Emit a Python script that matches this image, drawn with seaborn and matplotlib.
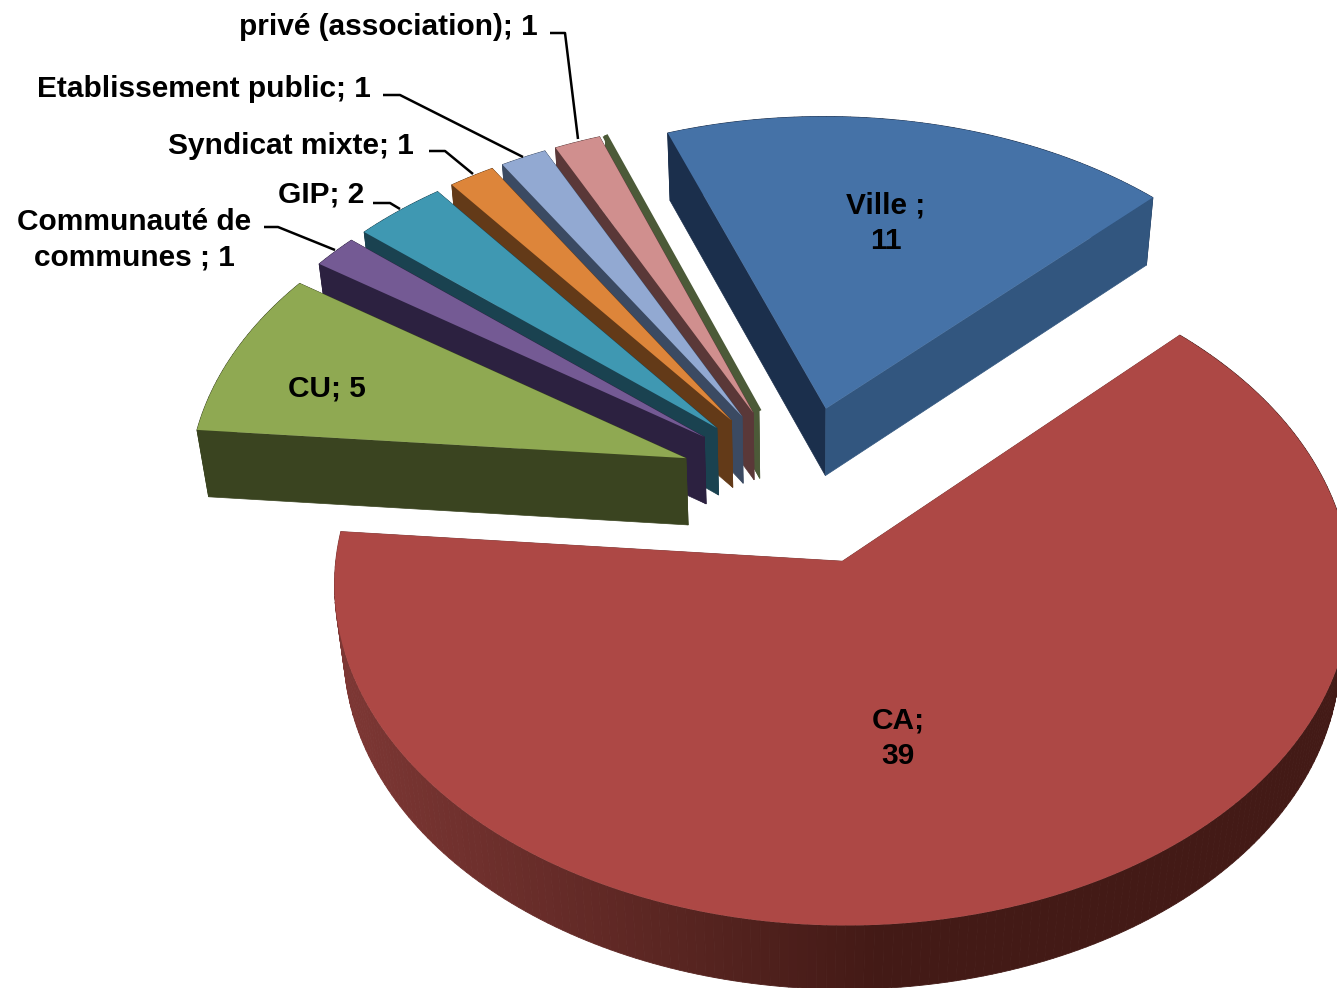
import matplotlib
matplotlib.use("Agg")
import matplotlib.pyplot as plt
from matplotlib.colors import to_rgb
from matplotlib.transforms import Transform
import numpy as np
import seaborn as sns

categories = ["Ville", "CA", "CU", "Communauté de communes", "GIP",
              "Syndicat mixte", "Etablissement public", "privé (association)", "Autre"]
values = [11, 39, 5, 1, 2, 1, 1, 1, 0]
top_colors = ["#4572a7", "#ad4845", "#8fa952", "#745a94", "#3f98b2",
              "#dd853a", "#92a9d2", "#d08f8e", "#a8c078"]
wall_colors = ["#1b2f4c", "#7a3532", "#3a4420", "#2c2140", "#1a4250",
               "#633a18", "#3b4a62", "#5a3838", "#4c5a38"]

sns.set_theme(style="white")
plt.rcParams["font.family"] = ["Liberation Sans", "DejaVu Sans"]

# fake 3D: camera numbers for the tilted pie
CX, CY, RX, RY, K, DEPTH, SHRINK = 800, 485, 498, 325, 0.075, 68, 0.02


def project(x, y, z=0.0):
    w = 1 + K * np.asarray(y) + SHRINK * z
    return CX + RX * np.asarray(x) / w, CY + (-RY * np.asarray(y) + DEPTH * z) / w


class Tilt(Transform):
    input_dims = output_dims = 2
    is_separable = False
    has_inverse = False

    def transform_non_affine(self, values):
        sx, sy = project(values[:, 0], values[:, 1])
        return np.column_stack([sx, sy])


fig = plt.figure(figsize=(13.37, 9.88), dpi=100)
ax = fig.add_axes([0, 0, 1, 1])
wedges, _ = ax.pie(values, colors=top_colors, explode=[0.245] * len(values), startangle=110,
                   counterclock=False, radius=1, wedgeprops={"linewidth": 0})
ax.set_aspect("auto")
ax.set_xlim(0, 1337)
ax.set_ylim(988, 0)
ax.axis("off")

tilt = Tilt() + ax.transData


def rim_point(w, angle):
    a = np.radians(angle)
    return w.center[0] + w.r * np.cos(a), w.center[1] + w.r * np.sin(a)


def draw_wall(w, angle, color, zo):
    ax0, ay0 = w.center
    rx0, ry0 = rim_point(w, angle)
    sx = []
    sy = []
    for px, py, pz in [(ax0, ay0, 0), (rx0, ry0, 0), (rx0, ry0, 1), (ax0, ay0, 1)]:
        a, b = project(px, py, pz)
        sx.append(a)
        sy.append(b)
    ax.fill(sx, sy, color=color, lw=0.5, zorder=zo)


def draw_rim(w, i, zo):
    angles = np.linspace(w.theta1, w.theta2, max(int(w.theta2 - w.theta1), 1) + 1)
    for a0, a1 in zip(angles[:-1], angles[1:]):
        x0, y0 = rim_point(w, a0)
        x1, y1 = rim_point(w, a1)
        pts = [project(x0, y0, 0), project(x1, y1, 0), project(x1, y1, 1), project(x0, y0, 1)]
        col = wall_colors[i]
        if categories[i] == "CA":
            # rim gets darker towards the bottom
            t = np.clip((pts[0][0] - 340) / 530, 0, 1)
            c0, c1 = np.array(to_rgb("#7d3734")), np.array(to_rgb("#431a16"))
            col = c0 + (c1 - c0) * t
        ax.fill([p[0] for p in pts], [p[1] for p in pts], color=col, lw=0.6, zorder=zo)


# back to front
order = [0, 8, 7, 6, 5, 4, 3, 2, 1]
for n, i in enumerate(order):
    w = wedges[i]
    zo = 2 + n * 3
    draw_rim(w, i, zo)
    draw_wall(w, w.theta2, wall_colors[i], zo + 1)
    draw_wall(w, w.theta1, "#32567f" if i == 0 else wall_colors[i], zo + 1)
    w.set_transform(tilt)
    w.set_zorder(zo + 2)
    if values[i] == 0:
        w.set_edgecolor(wall_colors[i])
        w.set_linewidth(4)

# data labels
text_style = dict(fontsize=21.5, fontweight="bold", color="black", zorder=50, linespacing=1.32)
ax.text(886, 223, f"{categories[0]} ;\n{values[0]}", ha="center", va="center", **text_style)
ax.text(898, 738, f"{categories[1]};\n{values[1]}", ha="center", va="center", **text_style)
ax.text(327, 388, f"{categories[2]}; {values[2]}", ha="center", va="center", **text_style)
ax.text(134, 240, f"Communauté de\ncommunes ; {values[3]}", ha="center", va="center", **text_style)
ax.text(364, 194, f"{categories[4]}; {values[4]}", ha="right", va="center", **text_style)
ax.text(414, 146, f"{categories[5]}; {values[5]}", ha="right", va="center", **text_style)
ax.text(371, 89, f"{categories[6]}; {values[6]}", ha="right", va="center", **text_style)
ax.text(538, 27, f"{categories[7]}; {values[7]}", ha="right", va="center", **text_style)

# leader lines
leaders = [
    ([550, 565, 578], [33, 33, 139]),
    ([383, 400, 523], [95, 95, 157]),
    ([429, 445, 473], [151, 151, 174]),
    ([373, 390, 400], [203, 203, 209]),
    ([264, 278, 335], [227, 227, 250]),
]
for lx, ly in leaders:
    ax.plot(lx, ly, color="black", lw=1.8, zorder=40, solid_capstyle="butt")

fig.savefig("out.png", dpi=100, facecolor="white")
